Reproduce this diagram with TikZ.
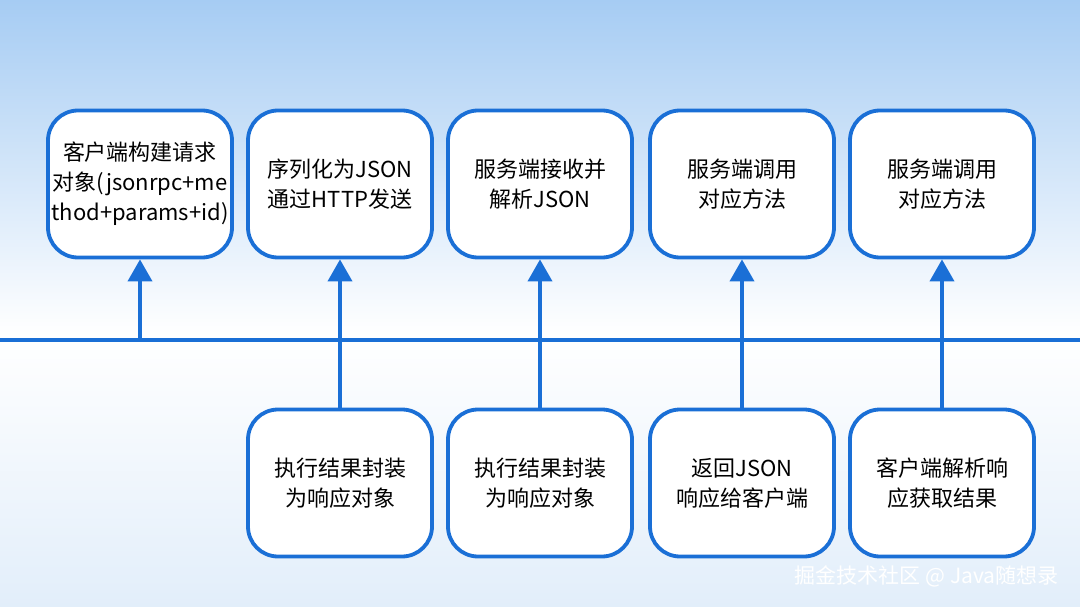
\documentclass[tikz,border=0pt]{standalone}
\usepackage{fontspec}
\setmainfont{Noto Sans CJK SC}
\usetikzlibrary{arrows.meta}
\definecolor{bl}{HTML}{1A6FD6}
\begin{document}
\begin{tikzpicture}[x=1pt,y=-1pt,
 box/.style={draw=bl,line width=3.8pt,fill=white,rounded corners=30pt,minimum width=184pt,minimum height=147pt,align=center,font=\fontsize{22}{30}\selectfont,text=black},
 conn/.style={draw=bl,line width=3.8pt,-{Triangle[length=22pt,width=24pt]}}]
\useasboundingbox (0,0) rectangle (1080,607);
\shade[top color={rgb,255:red,166;green,204;blue,243}, bottom color=white] (0,0) rectangle (1080,335);
\shade[top color=white, bottom color={rgb,255:red,226;green,238;blue,250}] (0,335) rectangle (1080,607);
\coordinate (L) at (0,340); \coordinate (R) at (1080,340);
\draw[bl,line width=3.8pt] (L) -- (R);
\node[box] (t1) at (140,184) {客户端构建请求\\对象(jsonrpc+me\\thod+params+id)};
\node[box] (t2) at (340,184) {序列化为JSON\\通过HTTP发送};
\node[box] (t3) at (540,184) {服务端接收并\\解析JSON};
\node[box] (t4) at (742,184) {服务端调用\\对应方法};
\node[box] (t5) at (942,184) {服务端调用\\对应方法};
\node[box] (b2) at (340,483) {执行结果封装\\为响应对象};
\node[box] (b3) at (540,483) {执行结果封装\\为响应对象};
\node[box] (b4) at (742,483) {返回JSON\\响应给客户端};
\node[box] (b5) at (942,483) {客户端解析响\\应获取结果};
\coordinate (c1) at (140,340);
\draw[conn] (c1) -- (t1.south);
\draw[conn] (b2.north) -- (t2.south);
\draw[conn] (b3.north) -- (t3.south);
\draw[conn] (b4.north) -- (t4.south);
\draw[conn] (b5.north) -- (t5.south);
\node[text=white,font=\fontsize{21}{24}\selectfont,anchor=east] (wm) at (1062,576) {掘金技术社区 @ Java随想录};
\end{tikzpicture}
\end{document}
